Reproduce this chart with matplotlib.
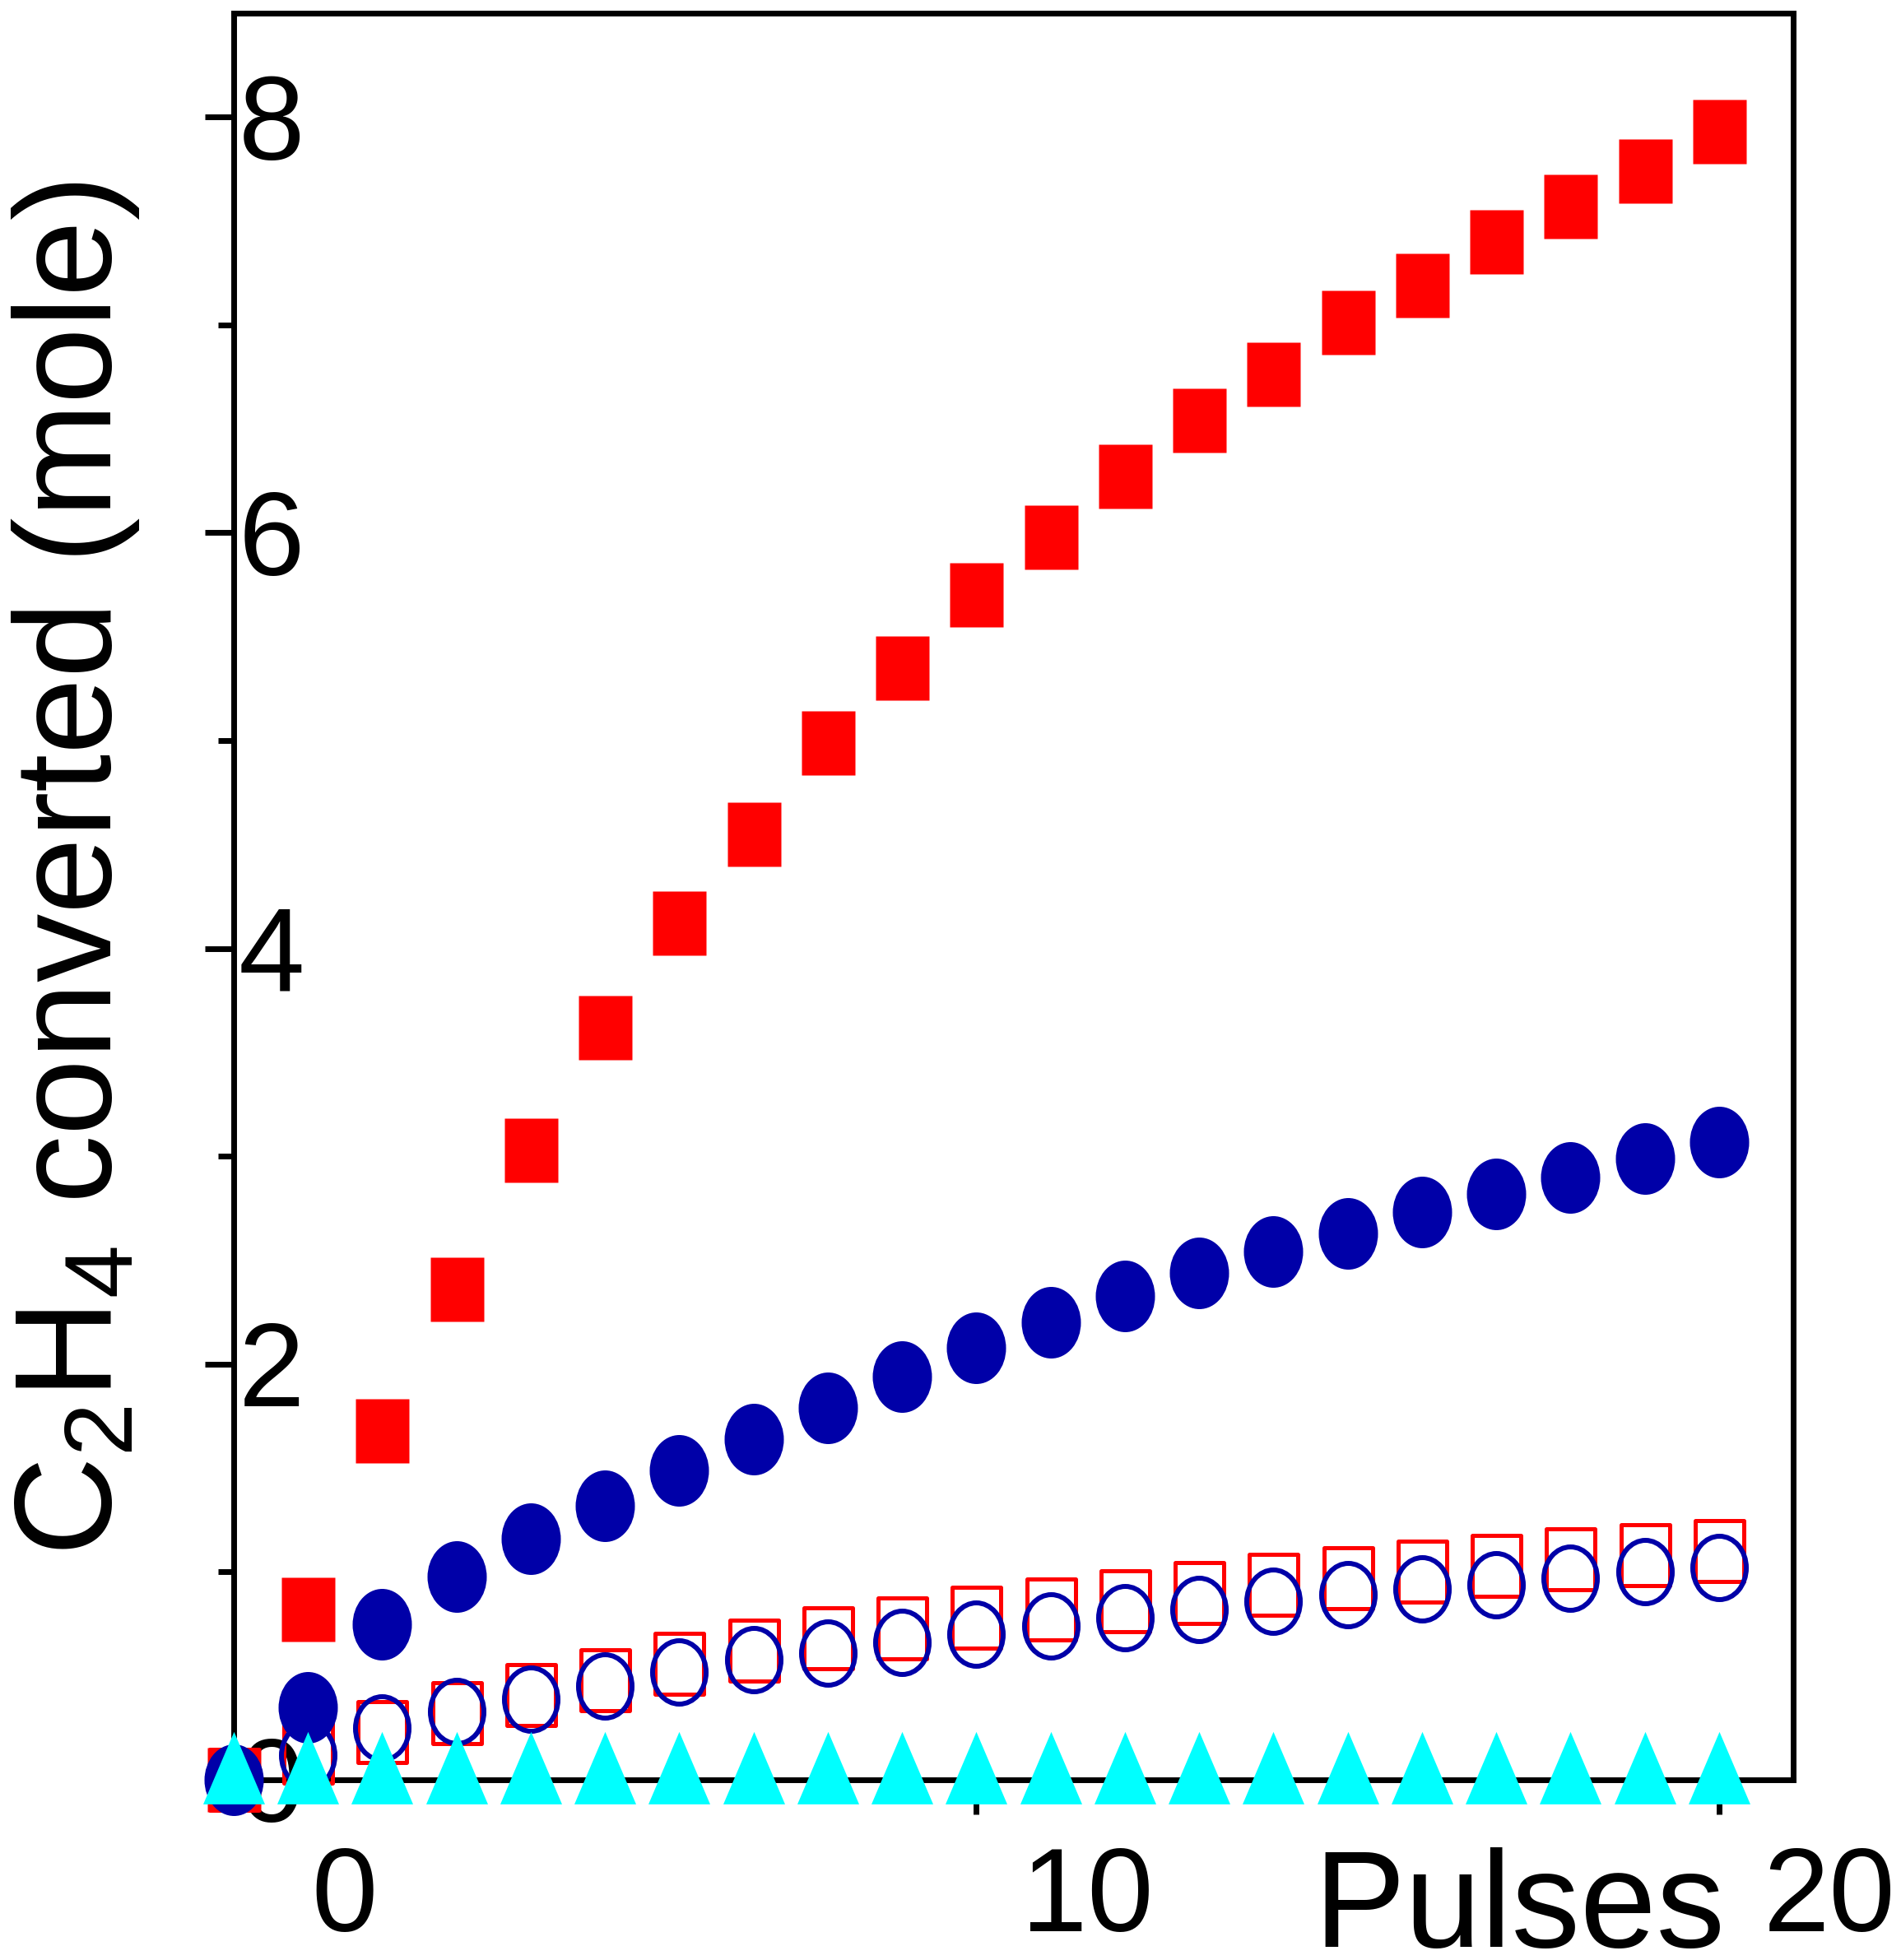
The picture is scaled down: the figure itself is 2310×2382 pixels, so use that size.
import numpy as np
import matplotlib.pyplot as plt
from matplotlib.path import Path

plt.rcParams['font.family'] = ['Liberation Sans', 'DejaVu Sans']
plt.rcParams['mathtext.fontset'] = 'custom'
plt.rcParams['mathtext.rm'] = 'Liberation Sans'
plt.rcParams['mathtext.it'] = 'Liberation Sans:italic'
plt.rcParams['mathtext.bf'] = 'Liberation Sans:bold'

# data
pulses = np.arange(21)
red_filled = [0.0, 0.82, 1.68, 2.36, 3.03, 3.62, 4.12, 4.55, 4.99, 5.35, 5.70,
              5.98, 6.27, 6.54, 6.76, 7.01, 7.19, 7.40, 7.57, 7.74, 7.93]
blue_filled = [0.0, 0.35, 0.75, 0.98, 1.16, 1.32, 1.49, 1.64, 1.79, 1.94, 2.08,
               2.20, 2.33, 2.44, 2.54, 2.63, 2.73, 2.82, 2.90, 2.99, 3.07]
red_open = [0.0, 0.13, 0.23, 0.32, 0.41, 0.48, 0.56, 0.62, 0.68, 0.73, 0.78,
            0.82, 0.86, 0.90, 0.94, 0.97, 1.00, 1.03, 1.06, 1.08, 1.10]
blue_open = [0.0, 0.12, 0.25, 0.33, 0.39, 0.45, 0.52, 0.58, 0.61, 0.66, 0.70,
             0.74, 0.78, 0.82, 0.86, 0.89, 0.92, 0.94, 0.97, 1.00, 1.02]
cyan_tri = [0.0] * 21

x_ticks = [0, 10, 20]
y_ticks = [0, 2, 4, 6, 8]

PX = 72 / 100  # points per pixel at dpi 100


def rect_marker(w, h):
    a = 0.5 * w / h
    return Path([(-a, -0.5), (a, -0.5), (a, 0.5), (-a, 0.5), (-a, -0.5)], closed=True)


def ellipse_marker(w, h):
    c = Path.unit_circle()
    return Path(c.vertices * [0.5 * w / h, 0.5], c.codes)


def tri_marker(w, h):
    # centred on the centroid, like the original plot
    a = 0.5 * w / h
    return Path([(0, 2 / 3), (-a, -1 / 3), (a, -1 / 3), (0, 2 / 3)], closed=True)


fig = plt.figure(figsize=(23.1, 23.82), dpi=100)
ax = fig.add_axes([0.1229, 0.0919, 0.8204, 0.9014])

ax.plot(pulses, red_filled, ls='none', marker=rect_marker(65, 78), ms=78 * PX,
        mfc='#FF0000', mec='none', clip_on=False, zorder=3)
ax.plot(pulses, red_open, ls='none', marker=rect_marker(59, 74), ms=74 * PX,
        mfc='none', mec='#FF0000', mew=5 * PX, clip_on=False, zorder=4)
ax.plot(pulses, blue_filled, ls='none', marker=ellipse_marker(72, 87), ms=87 * PX,
        mfc='#0000A8', mec='none', clip_on=False, zorder=5)
ax.plot(pulses, blue_open, ls='none', marker=ellipse_marker(65, 77), ms=77 * PX,
        mfc='none', mec='#0000A8', mew=6 * PX, clip_on=False, zorder=6)
ax.plot(pulses, cyan_tri, ls='none', marker=tri_marker(75, 88), ms=88 / 0.75 * PX,
        mfc='#00FFFF', mec='none', clip_on=False, zorder=7)

ax.set_xlim(0, 21)
ax.set_ylim(0, 8.5)
ax.set_xticks(x_ticks)
ax.set_xticks([5, 15], minor=True)
ax.set_yticks(y_ticks)
ax.set_yticks([1, 3, 5, 7], minor=True)

for s in ax.spines.values():
    s.set_linewidth(5)
    s.set_zorder(2.5)

ax.tick_params(which='both', direction='out', width=5, labelbottom=False, labelleft=False)
ax.tick_params(axis='y', which='major', length=25)
ax.tick_params(axis='x', which='major', length=30)
ax.tick_params(which='minor', length=14)

# tick labels sit oddly in the original: y labels inside the box, x labels shifted right
for v in y_ticks:
    ax.annotate(f'{v}', xy=(0, v), xycoords=ax.get_yaxis_transform(),
                xytext=(4, -37), textcoords='offset points',
                ha='left', va='baseline', fontsize=104, zorder=1)
for t in x_ticks:
    ax.annotate(f'{t}', xy=(t, 0), xycoords=ax.get_xaxis_transform(),
                xytext=(97, -132.5), textcoords='offset points',
                ha='center', va='baseline', fontsize=104, annotation_clip=False)

fig.text(2096 / 2310, 1 - 2366 / 2382, 'Pulses', ha='right', va='baseline', fontsize=120)
fig.text(0.040, 0.5567, r'C$_2$H$_4$ converted (mole)', rotation=90,
         ha='center', va='center', fontsize=120)

fig.savefig('out.png', dpi=100)
